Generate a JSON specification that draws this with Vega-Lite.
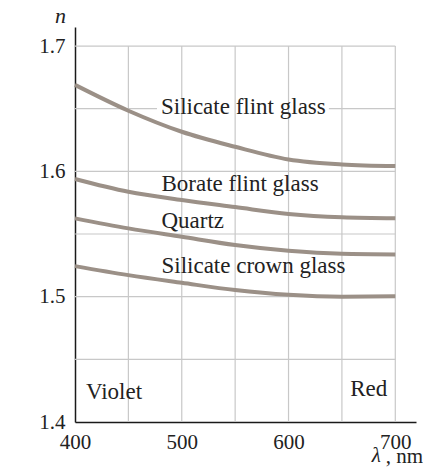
{
  "$schema": "https://vega.github.io/schema/vega-lite/v6.json",
  "autosize": "none",
  "width": 341,
  "height": 395,
  "padding": {"left": 75, "top": 27, "right": 7, "bottom": 52},
  "background": "white",
  "config": {"view": {"stroke": null}, "font": "Liberation Serif"},
  "datasets": {
    "grid": [
      {"x": 450, "x2": 450, "y": 1.4, "y2": 1.7},
      {"x": 500, "x2": 500, "y": 1.4, "y2": 1.7},
      {"x": 550, "x2": 550, "y": 1.4, "y2": 1.7},
      {"x": 600, "x2": 600, "y": 1.4, "y2": 1.7},
      {"x": 650, "x2": 650, "y": 1.4, "y2": 1.7},
      {"x": 700, "x2": 700, "y": 1.4, "y2": 1.7},
      {"x": 400, "x2": 700, "y": 1.45, "y2": 1.45},
      {"x": 400, "x2": 700, "y": 1.5, "y2": 1.5},
      {"x": 400, "x2": 700, "y": 1.55, "y2": 1.55},
      {"x": 400, "x2": 700, "y": 1.6, "y2": 1.6},
      {"x": 400, "x2": 476.8, "y": 1.65, "y2": 1.65},
      {"x": 637.8, "x2": 700, "y": 1.65, "y2": 1.65},
      {"x": 400, "x2": 700, "y": 1.7, "y2": 1.7}
    ],
    "curves": [
      {"series": "Silicate flint glass", "x": 400, "y": 1.669},
      {"series": "Silicate flint glass", "x": 450, "y": 1.6484},
      {"series": "Silicate flint glass", "x": 500, "y": 1.6316},
      {"series": "Silicate flint glass", "x": 550, "y": 1.6196},
      {"series": "Silicate flint glass", "x": 600, "y": 1.6095},
      {"series": "Silicate flint glass", "x": 650, "y": 1.6055},
      {"series": "Silicate flint glass", "x": 700, "y": 1.6042},
      {"series": "Borate flint glass", "x": 400, "y": 1.5939},
      {"series": "Borate flint glass", "x": 450, "y": 1.5837},
      {"series": "Borate flint glass", "x": 500, "y": 1.5771},
      {"series": "Borate flint glass", "x": 550, "y": 1.5715},
      {"series": "Borate flint glass", "x": 600, "y": 1.566},
      {"series": "Borate flint glass", "x": 650, "y": 1.5633},
      {"series": "Borate flint glass", "x": 700, "y": 1.5625},
      {"series": "Quartz", "x": 400, "y": 1.5625},
      {"series": "Quartz", "x": 450, "y": 1.5545},
      {"series": "Quartz", "x": 500, "y": 1.5478},
      {"series": "Quartz", "x": 550, "y": 1.5412},
      {"series": "Quartz", "x": 600, "y": 1.5366},
      {"series": "Quartz", "x": 650, "y": 1.5342},
      {"series": "Quartz", "x": 700, "y": 1.5337},
      {"series": "Silicate crown glass", "x": 400, "y": 1.5244},
      {"series": "Silicate crown glass", "x": 450, "y": 1.5172},
      {"series": "Silicate crown glass", "x": 500, "y": 1.5111},
      {"series": "Silicate crown glass", "x": 550, "y": 1.5053},
      {"series": "Silicate crown glass", "x": 600, "y": 1.5015},
      {"series": "Silicate crown glass", "x": 650, "y": 1.5},
      {"series": "Silicate crown glass", "x": 700, "y": 1.5003}
    ],
    "labels": [
      {"label": "Silicate flint glass", "x": 480.5, "y": 1.6458},
      {"label": "Borate flint glass", "x": 481, "y": 1.5846},
      {"label": "Quartz", "x": 481, "y": 1.5545},
      {"label": "Silicate crown glass", "x": 481, "y": 1.5191},
      {"label": "Violet", "x": 410.3, "y": 1.4181},
      {"label": "Red", "x": 657.8, "y": 1.4205}
    ],
    "lambda": [
      {"label": "λ", "x": 686.5, "y": 1.3681}
    ]
  },
  "encoding": {
    "x": {
      "field": "x",
      "type": "quantitative",
      "scale": {"domain": [400, 719.4], "nice": false, "zero": false},
      "axis": {
        "values": [400, 500, 600, 700],
        "grid": false,
        "ticks": false,
        "tickSize": 0,
        "domainColor": "#1a1a1a",
        "domainWidth": 1.5,
        "labelFont": "Liberation Serif",
        "labelFontSize": 21,
        "labelColor": "#222222",
        "labelPadding": 9,
        "labelFlush": false,
        "labelOverlap": false,
        "title": ", nm",
        "titleFont": "Liberation Serif",
        "titleFontSize": 21,
        "titleFontWeight": "normal",
        "titleColor": "#222222",
        "titleAngle": 0,
        "titleAlign": "right",
        "titleBaseline": "alphabetic",
        "titleX": 347.7,
        "titleY": 40.5
      }
    },
    "y": {
      "field": "y",
      "type": "quantitative",
      "scale": {"domain": [1.4, 1.7152], "nice": false, "zero": false},
      "axis": {
        "values": [1.4, 1.5, 1.6, 1.7],
        "format": ".1f",
        "grid": false,
        "ticks": false,
        "tickSize": 0,
        "domainColor": "#1a1a1a",
        "domainWidth": 1.5,
        "labelFont": "Liberation Serif",
        "labelFontSize": 21,
        "labelColor": "#222222",
        "labelPadding": 10,
        "labelBaseline": "middle",
        "labelFlush": false,
        "labelOverlap": false,
        "title": "n",
        "titleFont": "Liberation Serif",
        "titleFontSize": 22,
        "titleFontStyle": "italic",
        "titleFontWeight": "normal",
        "titleColor": "#222222",
        "titleAngle": 0,
        "titleAlign": "center",
        "titleBaseline": "alphabetic",
        "titleX": -15,
        "titleY": -4.3
      }
    }
  },
  "layer": [
    {
      "data": {"name": "grid"},
      "mark": {"type": "rule", "color": "#c8c8c8", "strokeWidth": 1.2},
      "encoding": {
        "x2": {"field": "x2"},
        "y2": {"field": "y2"}
      }
    },
    {
      "data": {"name": "curves"},
      "mark": {"type": "line", "color": "#9b9087", "strokeWidth": 4, "interpolate": "monotone"},
      "encoding": {
        "detail": {"field": "series", "type": "nominal"}
      }
    },
    {
      "data": {"name": "labels"},
      "mark": {"type": "text", "align": "left", "baseline": "alphabetic", "fontSize": 23, "font": "Liberation Serif", "color": "#222222"},
      "encoding": {
        "text": {"field": "label", "type": "nominal"}
      }
    },
    {
      "data": {"name": "lambda"},
      "mark": {"type": "text", "align": "right", "baseline": "alphabetic", "fontSize": 21, "font": "Liberation Serif", "fontStyle": "italic", "color": "#222222"},
      "encoding": {
        "text": {"field": "label", "type": "nominal"}
      }
    }
  ]
}
